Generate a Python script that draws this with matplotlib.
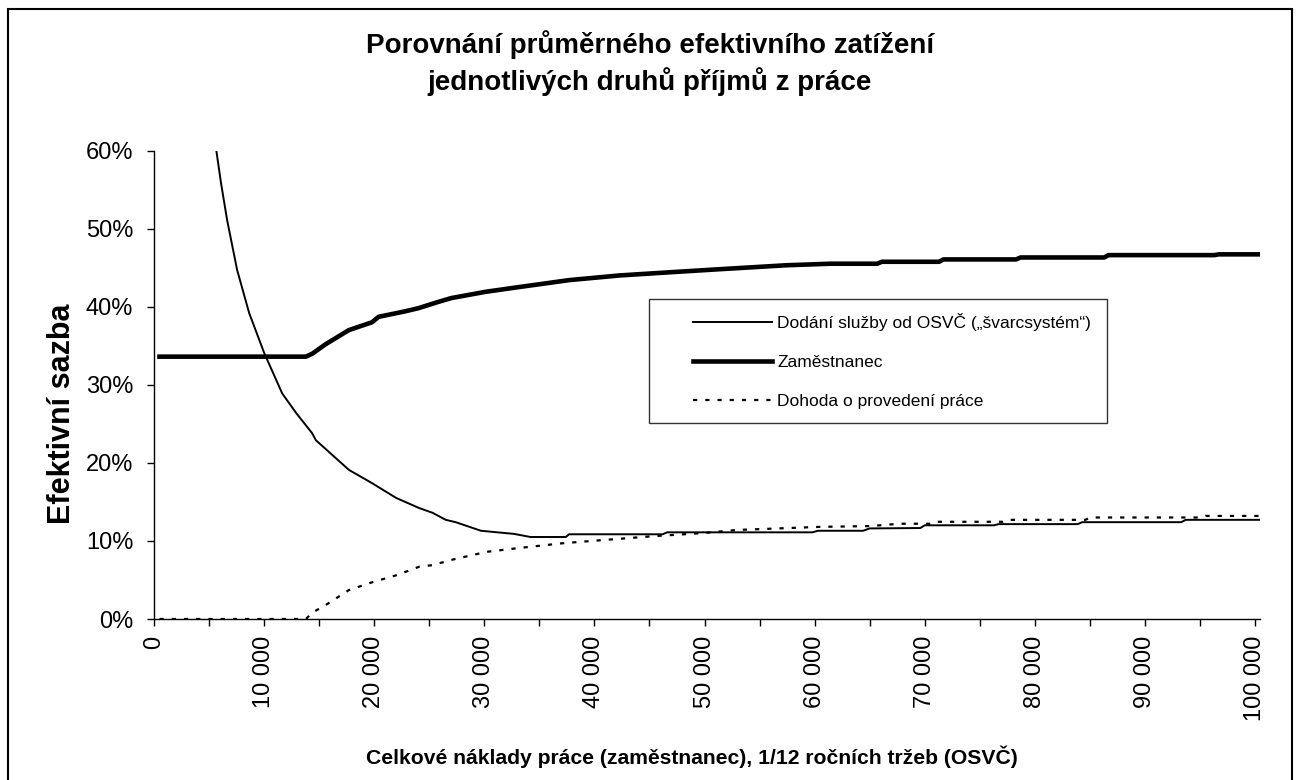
import matplotlib
matplotlib.use("Agg")
import matplotlib.pyplot as plt
import matplotlib.patches as patches
from matplotlib.ticker import MultipleLocator, FuncFormatter, PercentFormatter

plt.rcParams['font.family'] = ['Liberation Sans', 'DejaVu Sans']

# naklady prace (Kc) a efektivni sazba (%)
osvc_x = [5000, 5640, 6090, 6640, 7550, 8640, 10000, 11640, 12900, 14360, 14700,
          17700, 19800, 22000, 24100, 25300, 26500, 27400, 29700, 31200, 32700,
          34200, 37400, 37700, 46200, 46600, 59800, 60300, 64400, 65000, 69600,
          70000, 76300, 76700, 83900, 84300, 93300, 93700, 100450]
osvc_y = [68.0, 60.2, 55.8, 51.1, 44.7, 39.2, 34.1, 28.9, 26.4, 23.8, 22.9,
          19.1, 17.4, 15.5, 14.2, 13.6, 12.7, 12.4, 11.3, 11.1, 10.9,
          10.5, 10.5, 10.85, 10.85, 11.1, 11.1, 11.3, 11.3, 11.6, 11.65,
          12.0, 12.0, 12.15, 12.15, 12.4, 12.4, 12.7, 12.7]

zam_x = [500, 13800, 14400, 15600, 17700, 19800, 20400, 22800, 24000, 25800,
         27000, 30100, 33100, 37700, 42300, 46800, 51400, 57400, 61400, 65700,
         66100, 71300, 71700, 78300, 78700, 86300, 86700, 96300, 96700, 100450]
zam_y = [33.6, 33.6, 34.0, 35.2, 37.0, 38.0, 38.7, 39.4, 39.8, 40.6,
         41.1, 41.9, 42.5, 43.4, 44.0, 44.4, 44.8, 45.3, 45.5, 45.5,
         45.75, 45.75, 46.05, 46.05, 46.3, 46.3, 46.6, 46.6, 46.7, 46.7]

dpp_x = [500, 13800, 14360, 15600, 17700, 19800, 22000, 24100, 25300, 27100,
         30200, 33200, 37100, 40700, 45300, 49800, 52900, 60500, 65000, 67700,
         70500, 70900, 77100, 77500, 84600, 85000, 95100, 95500, 100450]
dpp_y = [0.0, 0.0, 0.8, 1.8, 3.7, 4.7, 5.6, 6.7, 6.9, 7.6,
         8.6, 9.1, 9.7, 10.1, 10.6, 11.0, 11.4, 11.8, 11.9, 12.2,
         12.2, 12.45, 12.45, 12.7, 12.7, 13.0, 13.0, 13.2, 13.2]

labels = ['Dodání služby od OSVČ („švarcsystém“)', 'Zaměstnanec', 'Dohoda o provedení práce']


def thousands(v, pos):
    return '{:,.0f}'.format(v).replace(',', ' ')


def main():
    fig = plt.figure(figsize=(12.98, 7.8), dpi=100)
    W, H = 1298.0, 780.0
    ax = fig.add_axes([154 / W, 1 - 619 / H, (1260 - 154) / W, (619 - 150.5) / H])

    ax.plot(osvc_x, osvc_y, color='black', lw=1.4, label=labels[0])
    ax.plot(zam_x, zam_y, color='black', lw=3.3, label=labels[1])
    ax.plot(dpp_x, dpp_y, color='black', lw=1.6, linestyle=(0, (1.9, 3.6)), label=labels[2])

    ax.set_xlim(0, 100450)
    ax.set_ylim(0, 60)

    ax.spines['top'].set_visible(False)
    ax.spines['right'].set_visible(False)
    ax.spines['left'].set_linewidth(1.0)
    ax.spines['bottom'].set_linewidth(1.0)

    ax.yaxis.set_major_locator(MultipleLocator(10))
    ax.yaxis.set_major_formatter(PercentFormatter(xmax=100, decimals=0))
    ax.xaxis.set_major_locator(MultipleLocator(10000))
    ax.xaxis.set_minor_locator(MultipleLocator(5000))
    ax.xaxis.set_major_formatter(FuncFormatter(thousands))

    ax.tick_params(axis='y', direction='out', length=5, width=1, labelsize=17, pad=10)
    ax.tick_params(axis='x', which='both', direction='out', length=5, width=1)
    ax.tick_params(axis='x', which='major', labelsize=17, labelrotation=90, pad=7)

    leg = ax.legend(loc='upper left', bbox_to_anchor=(693 / W, 1 - 313 / H),
                    bbox_transform=fig.transFigure, frameon=False, fontsize=12.5,
                    handlelength=4.55, handletextpad=0.3, labelspacing=1.37,
                    borderpad=0, borderaxespad=0)
    fig.add_artist(patches.Rectangle((649 / W, 1 - 423 / H), (1107 - 649) / W, (423 - 299) / H,
                                     transform=fig.transFigure, fill=False,
                                     edgecolor='#333333', lw=1.0))

    fig.text(650 / W, 1 - 63 / H, 'Porovnání průměrného efektivního zatížení\njednotlivých druhů příjmů z práce',
             ha='center', va='center', fontsize=20, fontweight='bold', linespacing=1.35)
    fig.text(62 / W, 1 - 414 / H, 'Efektivní sazba', ha='center', va='center',
             rotation=90, fontsize=22, fontweight='bold')
    fig.text(692 / W, 1 - 757 / H, 'Celkové náklady práce (zaměstnanec), 1/12 ročních tržeb (OSVČ)',
             ha='center', va='center', fontsize=15.2, fontweight='bold')

    # ramecek kolem celeho grafu
    fig.add_artist(patches.Rectangle((8 / W, -0.02), (1292 - 8) / W, 1.02 - 9 / H,
                                     transform=fig.transFigure, fill=False,
                                     edgecolor='black', lw=1.5))

    fig.savefig('out.png', dpi=100)


if __name__ == "__main__":
    main()
